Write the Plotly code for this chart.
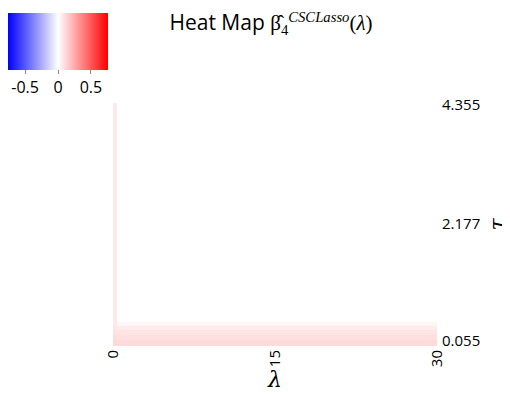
import plotly.graph_objects as go

# lambda / tau grid edges (bricks) and the estimated coefficient values
lam_edges = [0, 0.33, 30]
tau_edges = [-0.05, 0.06, 0.16, 0.25, 0.32, 0.39, 4.39]
beta_vals = [
    [0.115, 0.110],
    [0.105, 0.095],
    [0.090, 0.080],
    [0.075, 0.060],
    [0.065, 0.025],
    [0.068, 0.0],
]
z_lim = 0.76

x_ticks = [0, 15, 30]
tau_ticks = [0.055, 2.177, 4.355]
tau_labels = ["0.055", "2.177", "4.355"]

FONT = "Open Sans"
W, H = 510, 401
OFF = 8  # page body margin shifts the figure

fig = go.Figure()
fig.add_trace(go.Heatmap(
    x=lam_edges,
    y=tau_edges,
    z=beta_vals,
    zmin=-z_lim,
    zmax=z_lim,
    colorscale=[[0, "rgb(0,0,255)"], [0.5, "rgb(255,255,255)"], [1, "rgb(255,0,0)"]],
    colorbar=dict(
        orientation="h",
        xref="container", x=0, xanchor="left",
        yref="container", y=1 - (13 - OFF) / H, yanchor="top",
        len=100, lenmode="pixels",
        thickness=57, thicknessmode="pixels",
        xpad=0, ypad=0,
        outlinewidth=0,
        ticks="outside", ticklen=4, tickcolor="#888",
        tickvals=[-0.5, 0, 0.5], ticktext=["-0.5", "0", "0.5"],
        tickfont=dict(family=FONT, size=16, color="black"),
    ),
    showscale=True,
    hoverinfo="skip",
))

title = ('Heat Map <span style="font-family:Liberation Serif">'
         '\u03b2\u0302<sub>4</sub><sup><i>CSCLasso</i></sup>'
         '(<i>\u03bb</i>)</span>')

fig.update_layout(
    width=W, height=H,
    margin=dict(l=113 - OFF, r=W - (437 - OFF), t=103 - OFF, b=H - (346 - OFF),
                autoexpand=False),
    paper_bgcolor="white", plot_bgcolor="white",
    font=dict(family=FONT, color="black"),
    title=dict(text=title, x=(271 - OFF) / W, xref="container", xanchor="center",
               y=1 - (23 - OFF) / H, yref="container", yanchor="middle",
               font=dict(family=FONT, size=21, color="black")),
    xaxis=dict(range=[0, 30], tickvals=x_ticks, tickangle=-90,
               showgrid=False, zeroline=False, showline=False, ticks="",
               tickfont=dict(size=15),
               title=dict(text="<i>\u03bb</i>", standoff=0,
                          font=dict(family="DejaVu Serif", size=22))),
    yaxis=dict(range=[tau_edges[0], tau_edges[-1]], side="right",
               tickvals=tau_ticks, ticktext=tau_labels,
               showgrid=False, zeroline=False, showline=False, ticks="",
               ticklabelstandoff=4,
               tickfont=dict(size=15),
               title=dict(text="<i>\u03c4</i>", standoff=10,
                          font=dict(family="DejaVu Serif", size=22))),
)

fig.write_html("out.html")
